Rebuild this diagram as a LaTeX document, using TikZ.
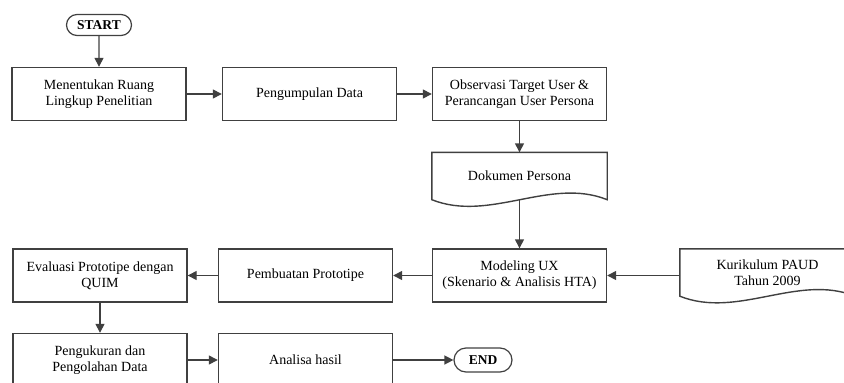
\documentclass[tikz,border=0pt]{standalone}
\usepackage{fontspec}
\setmainfont{Liberation Serif}
\usepackage{tikz}
\usetikzlibrary{shapes.misc,arrows.meta,positioning}

\begin{document}
\begin{tikzpicture}[x=1pt, y=-1pt,
    font=\fontsize{14}{16}\selectfont,
    box/.style={draw=black!75, line width=1.4pt, minimum width=174pt, minimum height=53pt, align=center, inner sep=2pt},
    term/.style={draw=black!75, line width=1.2pt, rounded rectangle, font=\fontsize{13.5}{16}\selectfont\bfseries, inner sep=2pt},
    doc/.style={minimum width=175pt, minimum height=47pt, align=center, inner sep=2pt},
    docline/.style={draw=black!75, line width=1.4pt},
    arr/.style={-{Triangle[length=9pt, width=9pt]}, draw=black!75, line width=1.4pt}]
  \clip (0,0) rectangle (844,383);

  % Terminals
    \node[term, minimum width=69pt, minimum height=21pt] (start) at (99,25) {START};
    \node[term, minimum width=62pt, minimum height=24pt] (end) at (483,360) {END};

  % Top row
    \node[box] (ruang) at (99,94) {Menentukan Ruang\\Lingkup Penelitian};
    \node[box] (kumpul) at (309.5,94) {Pengumpulan Data};
    \node[box] (observasi) at (519.5,94) {Observasi Target User \&\\Perancangan User Persona};

  % Documents
    \node[doc] (persona) at (519.5,176) {Dokumen Persona};
    \draw[docline] (persona.north west) -- (persona.north east) -- (persona.south east)
      .. controls +(-57,-23) and +(58,23) .. (persona.south west) -- cycle;
    \node[doc] (kurikulum) at (767.5,272.5) {Kurikulum PAUD\\Tahun 2009};
    \draw[docline] (kurikulum.north west) -- (kurikulum.north east) -- (kurikulum.south east)
      .. controls +(-57,-23) and +(58,23) .. (kurikulum.south west) -- cycle;

  % Middle row
    \node[box] (modeling) at (519.5,275.5) {Modeling UX\\(Skenario \& Analisis HTA)};
    \node[box] (prototipe) at (305.5,275.5) {Pembuatan Prototipe};
    \node[box] (evaluasi) at (100,275.5) {Evaluasi Prototipe dengan\\QUIM};

  % Bottom row
    \node[box] (ukur) at (100,360) {Pengukuran dan\\Pengolahan Data};
    \node[box] (analisa) at (305.5,360) {Analisa hasil};

  % Connectors
    \draw[arr] (start) -- (ruang);
    \draw[arr] (ruang) -- (kumpul);
    \draw[arr] (kumpul) -- (observasi);
    \draw[arr] (observasi) -- (persona);
    \draw[arr] (persona.south) -- (modeling);
    \draw[arr] (kurikulum.west |- modeling.east) -- (modeling.east);
    \draw[arr] (modeling) -- (prototipe);
    \draw[arr] (prototipe) -- (evaluasi);
    \draw[arr] (evaluasi) -- (ukur);
    \draw[arr] (ukur) -- (analisa);
    \draw[arr] (analisa) -- (end);

\end{tikzpicture}
\end{document}
